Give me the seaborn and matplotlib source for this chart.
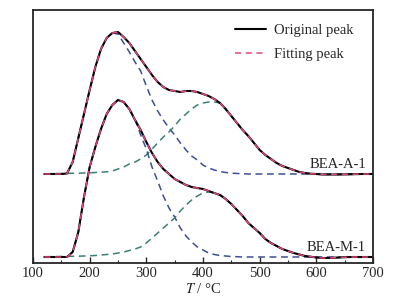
import numpy as np
import pandas as pd
import seaborn as sns
import matplotlib.pyplot as plt
from matplotlib.ticker import MultipleLocator

# temperature grid (°C)
T = [120, 130, 140, 150, 160, 170, 180, 190, 200, 210, 220, 230, 240, 250,
     260, 270, 280, 290, 300, 310, 320, 330, 340, 350, 360, 370, 380, 390,
     400, 410, 420, 430, 440, 450, 460, 470, 480, 490, 500, 510, 520, 530,
     540, 550, 560, 570, 580, 590, 600, 610, 620, 640, 660, 680, 700]

# BEA-A-1 (signal above its own baseline, arbitrary units)
orig_A = [0, 0, 0, 0, 0.5, 12, 36, 60, 84, 107, 125, 136, 141, 142,
          137, 131, 123, 115, 107, 99, 92, 87, 84, 83, 82, 83, 83, 82,
          80, 78, 75, 71, 65, 58, 51, 44, 38, 31, 24, 19, 15, 11,
          8, 6, 4, 2, 1, 0.3, 0, -0.5, -0.5, -0.5, -0.3, 0, 0]
peak1_A = [0, 0, 0, 0, 0.5, 12, 36, 60, 84, 107, 125, 136, 141, 140,
           131, 122, 112, 103, 88, 74, 63, 54, 46, 39, 31, 24, 18, 14,
           9, 6, 4, 2.5, 1.5, 1, 0.5, 0.3, 0, 0, 0, 0, 0, 0,
           0, 0, 0, 0, 0, 0, 0, 0, 0, 0, 0, 0, 0]
peak2_A = [0.2, 0.3, 0.4, 0.5, 0.6, 0.7, 0.8, 1, 1.2, 1.5, 1.8, 2.2, 3, 5,
           7, 10, 12, 15, 19, 25, 31, 37, 42, 48, 55, 60, 65, 69,
           71, 72, 72, 71, 65, 58, 51, 44, 38, 31, 24, 19, 15, 11,
           8, 6, 4, 2, 1, 0.3, 0, -0.5, -0.5, -0.5, -0.3, 0, 0]

# BEA-M-1
orig_M = [0, 0, 0, 0, 0, 5, 25, 60, 90, 110, 128, 143, 152, 157,
          155, 148, 137, 127, 115, 104, 95, 88, 83, 78, 75, 72, 70, 69,
          68, 66, 64, 62, 58, 53, 47, 41, 34, 29, 24, 18, 14, 11,
          8, 6, 4, 2.5, 1, 0.3, -0.5, -1, -1, -0.5, 0, 0, 0]
peak1_M = [0, 0, 0, 0, 0, 5, 25, 60, 90, 110, 128, 143, 152, 157,
           155, 148, 138, 122, 108, 90, 76, 61, 49, 40, 29, 21, 15, 10,
           7, 4, 2.5, 1.5, 1, 0.5, 0.3, 0, 0, 0, 0, 0, 0, 0,
           0, 0, 0, 0, 0, 0, 0, 0, 0, 0, 0, 0, 0]
peak2_M = [0.2, 0.3, 0.4, 0.5, 0.6, 0.7, 0.8, 1, 1.2, 1.5, 2, 2.5, 3, 4,
           5, 6.5, 8, 10, 14, 19, 24, 29, 34, 39, 46, 52, 57, 61,
           64, 65, 64, 62, 58, 53, 47, 41, 34, 29, 24, 18, 14, 11,
           8, 6, 4, 2.5, 1, 0.3, -0.5, -1, -1, -0.5, 0, 0, 0]

samples = ['BEA-A-1', 'BEA-M-1']
offsets = [89, 6]

df = pd.DataFrame({'T': T * 2,
                   'orig': orig_A + orig_M,
                   'p1': peak1_A + peak1_M,
                   'p2': peak2_A + peak2_M,
                   'sample': np.repeat(samples, len(T))})
df['offset'] = df['sample'].map(dict(zip(samples, offsets)))
for c in ['orig', 'p1', 'p2']:
    df[c] = df[c] + df['offset']

sns.set_style('ticks')
plt.rcParams['font.family'] = ['Liberation Serif', 'DejaVu Serif']
plt.rcParams['mathtext.fontset'] = 'stix'

fig = plt.figure(figsize=(4.16, 3.01), dpi=100)
ax = fig.add_axes([33 / 416, 38 / 301, 340 / 416, 253 / 301])

for i, s in enumerate(samples):
    d = df[df['sample'] == s]
    sns.lineplot(data=d, x='T', y='p1', ax=ax, color='#3d4f94', lw=1.1,
                 linestyle=(0, (4.5, 3)), sort=False)
    sns.lineplot(data=d, x='T', y='p2', ax=ax, color='#3c7f77', lw=1.1,
                 linestyle=(0, (4.5, 3)), sort=False)
    sns.lineplot(data=d, x='T', y='orig', ax=ax, color='black', lw=1.5,
                 sort=False, label='Original peak' if i == 0 else None)
    sns.lineplot(data=d, x='T', y='orig', ax=ax, color='#e0467c', lw=1.1,
                 linestyle=(0, (4, 3)), sort=False,
                 label='Fitting peak' if i == 0 else None)
    # sample name, right-aligned just above the baseline
    ax.text(688, offsets[i] + 6, s, ha='right', va='baseline', fontsize=10.5)

ax.set_xlim(100, 700)
ax.set_ylim(0, 253)
ax.xaxis.set_major_locator(MultipleLocator(100))
ax.xaxis.set_minor_locator(MultipleLocator(50))
ax.set_yticks([])
ax.tick_params(axis='x', which='major', direction='in', length=4, width=1,
               labelsize=10.5, pad=3)
ax.tick_params(axis='x', which='minor', direction='in', length=2.5, width=0.8)
for sp in ax.spines.values():
    sp.set_visible(True)
    sp.set_linewidth(1.3)
ax.set_xlabel('$T$ / °C', fontsize=10.5, labelpad=1)
ax.set_ylabel('')

ax.legend(loc='upper left', bbox_to_anchor=(0.594, 0.947), frameon=False,
          fontsize=10.5, handlelength=2.1, labelspacing=0.75, handletextpad=0.55,
          borderpad=0, borderaxespad=0)

fig.savefig('out.png', dpi=100)
